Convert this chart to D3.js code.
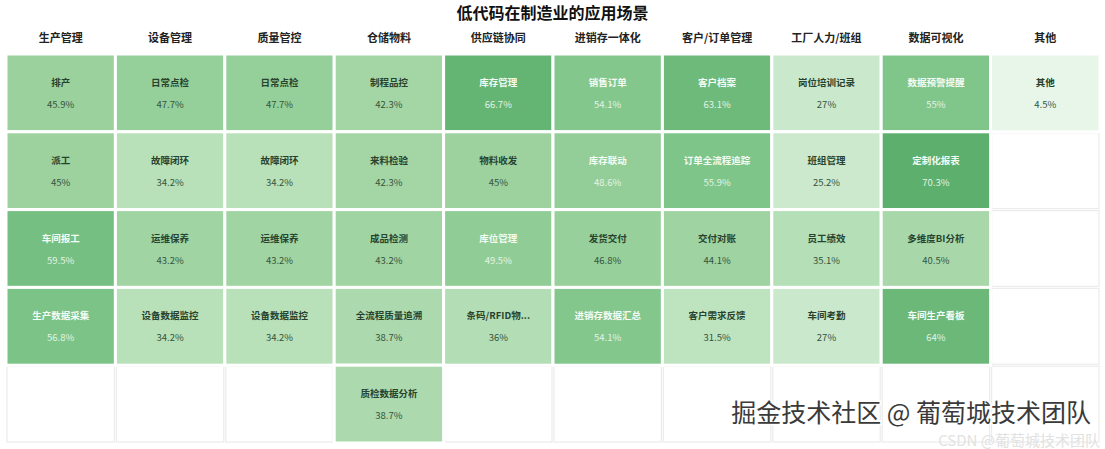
<!DOCTYPE html>
<html>
<head>
<meta charset="utf-8">
<script src="https://cdn.jsdelivr.net/npm/d3@7"></script>
<style>
html,body{margin:0;padding:0;background:#fff;}
svg{display:block;font-family:"Noto Sans CJK SC","Noto Sans",sans-serif;}
</style>
</head>
<body>
<svg id="chart" width="1105" height="449"></svg>
<script>
const title = "低代码在制造业的应用场景";
const categories = ["生产管理","设备管理","质量管控","仓储物料","供应链协同","进销存一体化","客户/订单管理","工厂人力/班组","数据可视化","其他"];
const rowCount = 5;
// scenarios per category (top to bottom)
const scenarioLabels = [
  ["排产","派工","车间报工","生产数据采集"],
  ["日常点检","故障闭环","运维保养","设备数据监控"],
  ["日常点检","故障闭环","运维保养","设备数据监控"],
  ["制程品控","来料检验","成品检测","全流程质量追溯","质检数据分析"],
  ["库存管理","物料收发","库位管理","条码/RFID物..."],
  ["销售订单","库存联动","发货交付","进销存数据汇总"],
  ["客户档案","订单全流程追踪","交付对账","客户需求反馈"],
  ["岗位培训记录","班组管理","员工绩效","车间考勤"],
  ["数据预警提醒","定制化报表","多维度BI分析","车间生产看板"],
  ["其他"]
];
const scenarioValues = [
  [45.9,45,59.5,56.8],
  [47.7,34.2,43.2,34.2],
  [47.7,34.2,43.2,34.2],
  [42.3,42.3,43.2,38.7,38.7],
  [66.7,45,49.5,36],
  [54.1,48.6,46.8,54.1],
  [63.1,55.9,44.1,31.5],
  [27,25.2,35.1,27],
  [55,70.3,40.5,64],
  [4.5]
];
const watermark = "掘金技术社区 @ 葡萄城技术团队";
const watermark2 = "CSDN @葡萄城技术团队";

const W = 1105, H = 449;
const margin = {left: 6, right: 5, top: 54, bottom: 6};
const svg = d3.select("#chart");

const x = d3.scaleBand().domain(d3.range(categories.length))
  .range([margin.left, W - margin.right]).paddingInner(0).paddingOuter(0);
const y = d3.scaleBand().domain(d3.range(rowCount))
  .range([margin.top, H - margin.bottom]).paddingInner(0).paddingOuter(0);

const color = d3.scaleLinear()
  .domain([0, 27, 34, 45, 55, 70.3])
  .range(["#eef8ef", "#cae8cb", "#b8e0b9", "#9dd29f", "#80c68b", "#5caf6d"])
  .clamp(true);

// title
svg.append("text").attr("x", W/2).attr("y", 19)
  .attr("text-anchor","middle").attr("font-size", 16).attr("font-weight", "bold")
  .attr("fill", "#111").text(title);

// headers
svg.selectAll("text.hdr").data(categories).join("text")
  .attr("class","hdr")
  .attr("x", (d,i) => x(i) + x.bandwidth()/2)
  .attr("y", 42)
  .attr("text-anchor","middle").attr("font-size", 11).attr("font-weight","bold")
  .attr("fill","#222").text(d => d);

// all cells (empty background grid)
const grid = [];
categories.forEach((c,i) => d3.range(rowCount).forEach(r => grid.push({c:i, r})));
svg.append("g").selectAll("rect").data(grid).join("rect")
  .attr("x", d => x(d.c) + 1).attr("y", d => y(d.r) + 1)
  .attr("width", x.bandwidth() - 2).attr("height", y.bandwidth() - 2)
  .attr("fill", "#fff").attr("stroke", "#ececec").attr("stroke-width", 1.2);

// filled cells
const cells = [];
categories.forEach((c,i) => scenarioLabels[i].forEach((lab,r) => cells.push({c:i, r, label:lab, value:scenarioValues[i][r]})));
const g = svg.append("g").selectAll("g").data(cells).join("g")
  .attr("transform", d => `translate(${x(d.c)},${y(d.r)})`);
g.append("rect")
  .attr("x", 0).attr("y", 0)
  .attr("width", x.bandwidth()).attr("height", y.bandwidth())
  .attr("fill", d => color(d.value)).attr("stroke", "#fff").attr("stroke-width", 3);
const dark = d => d.value >= 48;
g.append("text")
  .attr("x", x.bandwidth()/2).attr("y", 32)
  .attr("text-anchor","middle").attr("font-size", 9.5).attr("font-weight","bold")
  .attr("fill", d => dark(d) ? "#f4fbf4" : "#27432e").text(d => d.label);
g.append("text")
  .attr("x", x.bandwidth()/2).attr("y", 54)
  .attr("text-anchor","middle").attr("font-size", 9.5)
  .attr("fill", d => dark(d) ? "#e2f3e4" : "#35553e").text(d => d.value + "%");

// watermarks
svg.append("text").attr("x", 1100).attr("y", 446)
  .attr("text-anchor","end").attr("font-size", 15)
  .attr("fill", "#e2e2e2").text(watermark2);
svg.append("text").attr("x", 1091).attr("y", 422)
  .attr("text-anchor","end").attr("font-size", 25)
  .attr("fill", "#3a3a3a").attr("stroke", "#fff").attr("stroke-width", 3)
  .attr("paint-order", "stroke").text(watermark);
</script>
</body>
</html>
